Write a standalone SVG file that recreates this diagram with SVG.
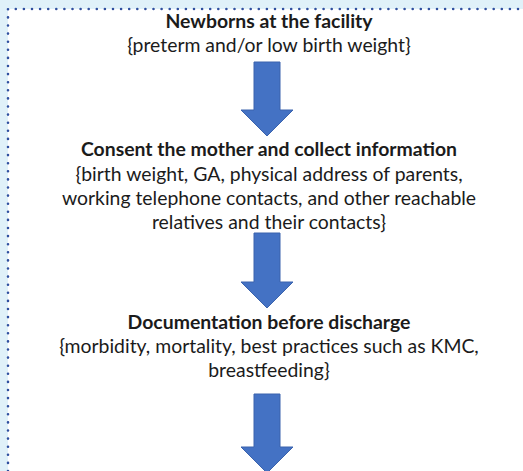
<svg xmlns="http://www.w3.org/2000/svg" width="523" height="471" viewBox="0 0 523 471">
<defs>
<style>
.t{font-family:Lato,"Open Sans","Liberation Sans",sans-serif;font-size:19.4px;fill:#1b1b1b;text-anchor:middle}
.b{font-weight:bold}
.arr{fill:#4472c4;stroke:#3a63ad;stroke-width:1}
.dot{fill:none;stroke:#2f4f9f;stroke-width:2.6;stroke-linecap:round;stroke-dasharray:0 8.1}
</style>
</defs>
<rect x="0" y="0" width="523" height="471" fill="#e0f1f9"/>
<rect x="8" y="9" width="515" height="462" fill="#ffffff"/>
<path class="dot" d="M8 471 L8 9 L523 9"/>
<g id="node1">
<text class="t b" x="269" y="28">Newborns at the facility</text>
<text class="t" x="269" y="52">{preterm and/or low birth weight}</text>
</g>
<g id="node2">
<text class="t b" x="269" y="156">Consent the mother and collect information</text>
<text class="t" x="269" y="181">{birth weight, GA, physical address of parents,</text>
<text class="t" x="269" y="205">working telephone contacts, and other reachable</text>
<text class="t" x="269" y="229">relatives and their contacts}</text>
</g>
<g id="node3">
<text class="t b" x="269" y="329">Documentation before discharge</text>
<text class="t" x="269" y="353">{morbidity, mortality, best practices such as KMC,</text>
<text class="t" x="269" y="377">breastfeeding}</text>
</g>
<g id="connectors">
<polygon class="arr" points="254,62 280,62 280,110 293,110 267,136 241,110 254,110"/>
<polygon class="arr" points="254,233 280,233 280,282 293,282 267,308 241,282 254,282"/>
<polygon class="arr" points="254,394 280,394 280,447 293,447 267,473 241,447 254,447"/>
</g>
</svg>
